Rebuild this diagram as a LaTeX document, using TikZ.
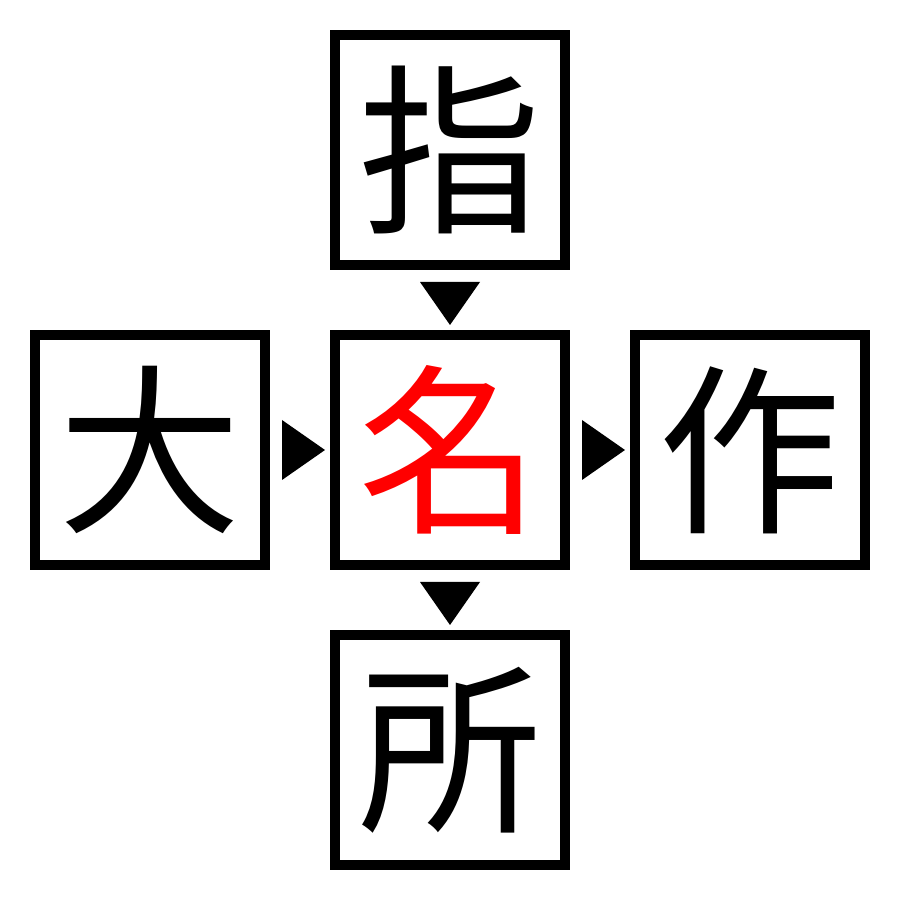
\documentclass[tikz,border=0pt]{standalone}
\usepackage{fontspec}
\newfontfamily\cjk{Noto Sans CJK JP}
\usetikzlibrary{calc}

\begin{document}
\begin{tikzpicture}[
		kanji/.style={draw, line width=1mm, minimum size=2.3cm, inner sep=0pt, font=\cjk\fontsize{52}{52}\selectfont},
		pointer/.style={fill=black}
	]
		%%%%% START %%%%%
		
		\useasboundingbox (0, 0) rectangle (9, 9);
		
		\node[kanji] (top) at (4.5, 7.5) {指};
		\node[kanji] (left) at (1.5, 4.5) {大};
		\node[kanji, text=red] (mid) at (4.5, 4.5) {名};
		\node[kanji] (right) at (7.5, 4.5) {作};
		\node[kanji] (bottom) at (4.5, 1.5) {所};
		
		\fill[pointer] ($(top.south)+(-0.3, -0.12)$) -- ($(top.south)+(0.3, -0.12)$) -- ($(mid.north)+(0, 0.05)$) -- cycle;
		\fill[pointer] ($(mid.south)+(-0.3, -0.12)$) -- ($(mid.south)+(0.3, -0.12)$) -- ($(bottom.north)+(0, 0.05)$) -- cycle;
		
		\fill[pointer] ($(left.east)+(0.12, 0.3)$) -- ($(left.east)+(0.12, -0.3)$) -- ($(mid.west)+(-0.05, 0)$) -- cycle;
		\fill[pointer] ($(mid.east)+(0.12, 0.3)$) -- ($(mid.east)+(0.12, -0.3)$) -- ($(right.west)+(-0.05, 0)$) -- cycle;
		
		%%%%% END %%%%%
	\end{tikzpicture}
\end{document}
